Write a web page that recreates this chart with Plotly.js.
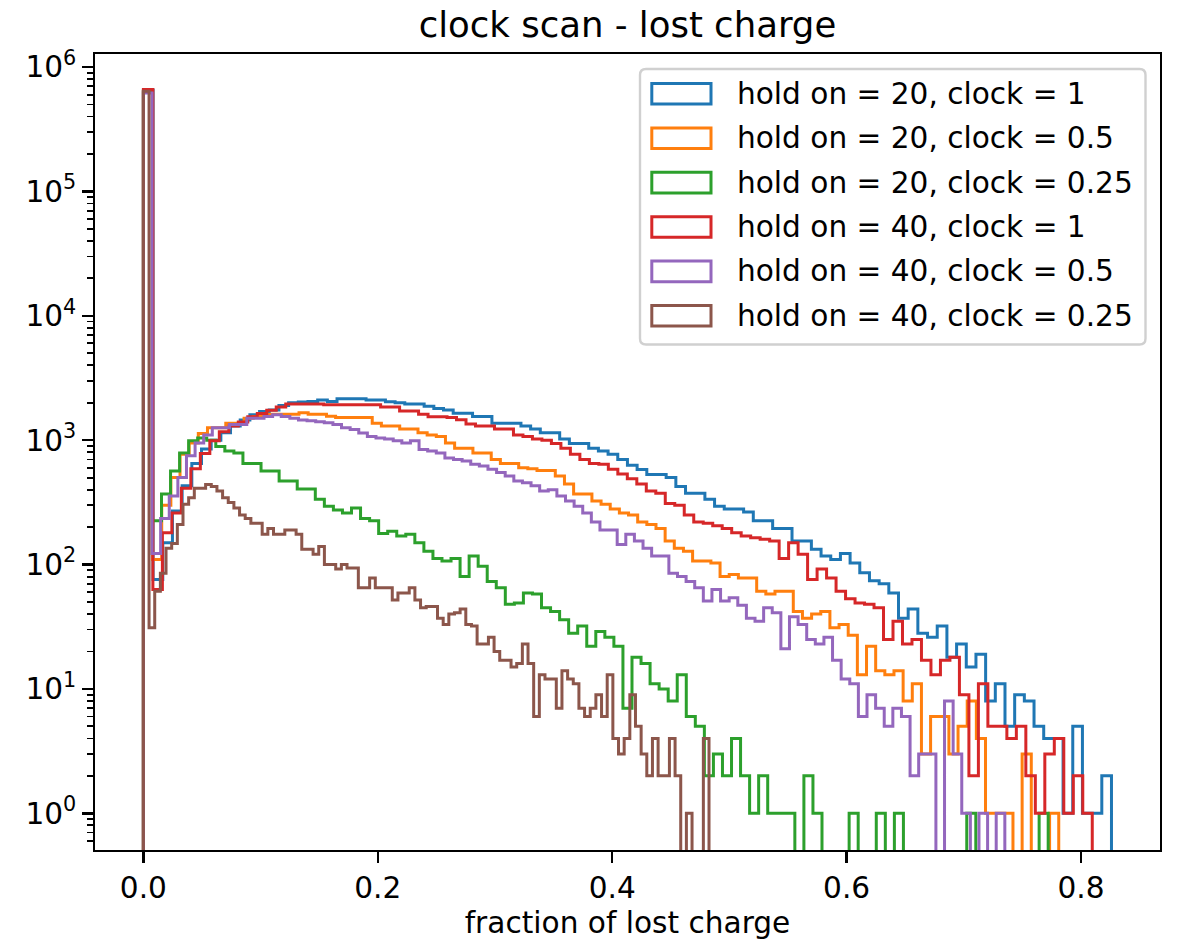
<!DOCTYPE html>
<html><head><meta charset="utf-8">
<script src="https://cdn.plot.ly/plotly-3.0.1.min.js"></script>
<style>html,body{margin:0;padding:0;background:#fff}</style>
</head><body><div id="chart" style="width:1178px;height:942px"></div>
<script>
// ---- data (histogram counts, 100 bins each, range [0, max]) ----
const seriesLabels = ['hold on = 20, clock = 1','hold on = 20, clock = 0.5','hold on = 20, clock = 0.25',
                      'hold on = 40, clock = 1','hold on = 40, clock = 0.5','hold on = 40, clock = 0.25'];
const seriesMax = [0.826, 0.781, 0.772, 0.8096, 0.735, 0.4826];
const countsH20C1 = [650000,76,150,270,430,650,850,1000,1150,1300,
 1450,1600,1700,1750,1900,2000,2030,2050,2100,2050,
 2150,2150,2150,2100,2100,2040,2000,1950,1950,1870,
 1800,1750,1650,1650,1550,1550,1370,1370,1370,1300,
 1230,1150,1150,1020,940,940,860,820,770,700,
 630,580,530,530,500,425,375,375,335,295,
 280,280,265,225,225,195,195,155,155,133,
 117,110,123,103,86,74,70,59,37,44,
 28,26,32,18,23,15,19,8,11,5,
 9,8,5,4,4,1,5,1,1,2];
const countsH20C05 = [640000,110,300,500,770,950,1130,1260,1260,1370,
 1370,1500,1550,1620,1620,1620,1620,1660,1620,1620,
 1560,1520,1520,1520,1520,1370,1300,1300,1230,1230,
 1150,1100,1070,950,860,860,790,790,700,650,
 650,600,590,570,570,515,445,370,370,325,
 305,280,260,250,220,210,195,155,135,128,
 107,107,103,80,83,78,78,61,58,61,
 61,42,37,40,42,31,33,27,13,22,
 14,13,14,8,11,3,6,6,3,5,
 8,4,1,1,1,0,3,0,0,1];
const countsH20C025 = [630000,225,370,565,790,990,1040,1000,890,820,
 790,650,650,565,565,470,470,405,405,335,
 295,275,260,285,235,225,178,185,170,175,
 150,128,112,107,112,80,117,97,73,65,
 48,49,59,58,45,42,36,28,32,22,
 29,26,22,7,18,16,11,10,8,13,
 6,5,2,3,2,4,2,1,2,1,
 1,1,0,2,1,0,0,0,1,0,
 0,1,0,1,0,0,0,0,0,0,
 0,1,0,0,0,0,0,0,0,1];
const countsH40C1 = [660000,63,180,260,410,590,780,990,1170,1300,
 1400,1540,1640,1740,1850,1950,1950,1950,1950,1930,
 1930,1930,1930,1930,1930,1850,1850,1720,1720,1620,
 1540,1540,1520,1460,1350,1300,1300,1230,1230,1100,
 1070,1020,1000,940,860,770,700,650,640,585,
 535,490,445,390,375,310,300,250,220,215,
 205,195,180,170,164,160,155,112,150,121,
 76,92,78,61,53,49,48,45,25,35,
 23,25,17,13,17,18,9,2,11,5,
 5,4,5,2,1,3,4,1,2,1];
const countsH40C05 = [620000,123,235,355,500,750,950,1100,1260,1260,
 1340,1340,1500,1500,1550,1600,1550,1500,1450,1430,
 1410,1380,1340,1260,1220,1140,1070,1040,1020,990,
 950,990,840,820,790,720,700,680,640,620,
 585,550,515,470,455,430,390,400,355,325,
 295,260,220,190,190,145,175,155,135,117,
 117,85,80,73,65,51,63,51,54,47,
 37,35,45,41,21,38,33,25,23,26,
 17,12,11,6,9,7,5,7,6,2,
 3,3,0,8,3,1,0,1,0,1];
const countsH40C025 = [640000,31,61,85,135,148,210,305,345,410,
 410,440,425,390,345,315,285,250,235,215,
 215,175,195,175,175,190,190,175,133,133,
 121,140,100,100,92,100,94,94,65,65,
 78,65,65,65,52,59,59,65,52,45,
 46,46,37,33,40,41,44,33,32,23,
 23,26,20,17,17,15,16,23,16,6,
 13,12,12,7,14,12,11,7,6,7,
 9,6,13,4,3,4,9,5,3,2,
 4,2,2,4,2,0,1,0,0,4];
const xTickVals = [0, 0.2, 0.4, 0.6, 0.8];
const xTickText = ['0.0', '0.2', '0.4', '0.6', '0.8'];
const yTickVals = [1, 10, 100, 1000, 10000, 100000, 1000000];
const yTickText = ['10<sup>0</sup>','10<sup>1</sup>','10<sup>2</sup>','10<sup>3</sup>','10<sup>4</sup>','10<sup>5</sup>','10<sup>6</sup>'];

// ---- style ----
const allCounts = [countsH20C1, countsH20C05, countsH20C025, countsH40C1, countsH40C05, countsH40C025];
const colors = ['#1f77b4', '#ff7f0e', '#2ca02c', '#d62728', '#9467bd', '#8c564b'];
const FONT = 'DejaVu Sans';
const LOGFLOOR = 0.01; // empty bins drop below the axis, as matplotlib does

const traces = allCounts.map((counts, s) => {
  const n = counts.length, w = seriesMax[s] / n;
  const xs = [0], ys = [LOGFLOOR];
  for (let i = 0; i < n; i++) { xs.push(i * w); ys.push(counts[i] > 0 ? counts[i] : LOGFLOOR); }
  xs.push(n * w); ys.push(counts[n - 1] > 0 ? counts[n - 1] : LOGFLOOR);
  xs.push(n * w); ys.push(LOGFLOOR);
  return {type: 'scatter', mode: 'lines', x: xs, y: ys, name: seriesLabels[s],
          line: {shape: 'hv', color: colors[s], width: 3}, hoverinfo: 'skip'};
});

// plot area in pixels
const L = 95, R = 1160, T = 54, B = 850;
const px = x => (x - L) / (R - L);
const py = y => (B - y) / (B - T);

// hand-drawn matplotlib style legend
const shapes = [];
const annotations = [];
const lgX0 = 640, lgX1 = 1145.5, lgY0 = 69, lgY1 = 344.5, rad = 6;
const rx = rad / (R - L), ry = rad / (B - T);
const X0 = px(lgX0), X1 = px(lgX1), Y0 = py(lgY1), Y1 = py(lgY0);
shapes.push({type: 'path', xref: 'paper', yref: 'paper',
  path: `M ${X0+rx},${Y0} L ${X1-rx},${Y0} Q ${X1},${Y0} ${X1},${Y0+ry} L ${X1},${Y1-ry} Q ${X1},${Y1} ${X1-rx},${Y1} L ${X0+rx},${Y1} Q ${X0},${Y1} ${X0},${Y1-ry} L ${X0},${Y0+ry} Q ${X0},${Y0} ${X0+rx},${Y0} Z`,
  line: {color: '#d0d0d0', width: 2.4}, fillcolor: 'rgba(255,255,255,0.8)', layer: 'above'});
seriesLabels.forEach((lab, k) => {
  const cy = 93.8 + 44.4 * k;
  shapes.push({type: 'rect', xref: 'paper', yref: 'paper', x0: px(651.8), x1: px(711), y0: py(cy + 10.3), y1: py(cy - 10.3),
               line: {color: colors[k], width: 3}, fillcolor: 'rgba(0,0,0,0)', layer: 'above'});
  annotations.push({xref: 'paper', yref: 'paper', x: px(734.5), y: py(cy), xanchor: 'left', yanchor: 'middle',
                    text: lab, showarrow: false, font: {family: FONT, size: 29.6, color: 'black'}});
});

const minorVals = [];
for (let e = -1; e <= 6; e++) for (let d = 2; d <= 9; d++) minorVals.push(d * Math.pow(10, e));

const layout = {
  width: 1178, height: 942,
  margin: {l: L, r: 1178 - R, t: T, b: 942 - B},
  paper_bgcolor: 'white', plot_bgcolor: 'white',
  showlegend: false,
  font: {family: FONT, color: 'black', size: 29.6},
  title: {text: 'clock scan - lost charge', font: {family: FONT, size: 35.5, color: 'black'},
          x: 0.5, xref: 'paper', xanchor: 'center', y: 1 - 25 / 942, yref: 'container', yanchor: 'middle'},
  xaxis: {range: [-0.0413, 0.8674], tickmode: 'array', tickvals: xTickVals, ticktext: xTickText,
          ticks: 'outside', ticklen: 10.4, tickwidth: 2.4, tickcolor: 'black',
          showline: true, linewidth: 2.4, linecolor: 'black', mirror: true,
          showgrid: false, zeroline: false, tickfont: {family: FONT, size: 29.6, color: 'black'},
          title: {text: 'fraction of lost charge', font: {family: FONT, size: 29.6, color: 'black'}, standoff: 8}},
  yaxis: {type: 'log', range: [-0.295, 6.105], tickmode: 'array', tickvals: yTickVals, ticktext: yTickText,
          ticks: 'outside', ticklen: 10.4, tickwidth: 2.4, tickcolor: 'black',
          showline: true, linewidth: 2.4, linecolor: 'black', mirror: true,
          showgrid: false, zeroline: false, tickfont: {family: FONT, size: 29.6, color: 'black'},
          minor: {tickmode: 'array', tickvals: minorVals, ticks: 'outside', ticklen: 6, tickwidth: 1.8, tickcolor: 'black', showgrid: false}},
  shapes: shapes,
  annotations: annotations
};

Plotly.newPlot('chart', traces, layout, {displayModeBar: false, staticPlot: true});
</script>
</body></html>
